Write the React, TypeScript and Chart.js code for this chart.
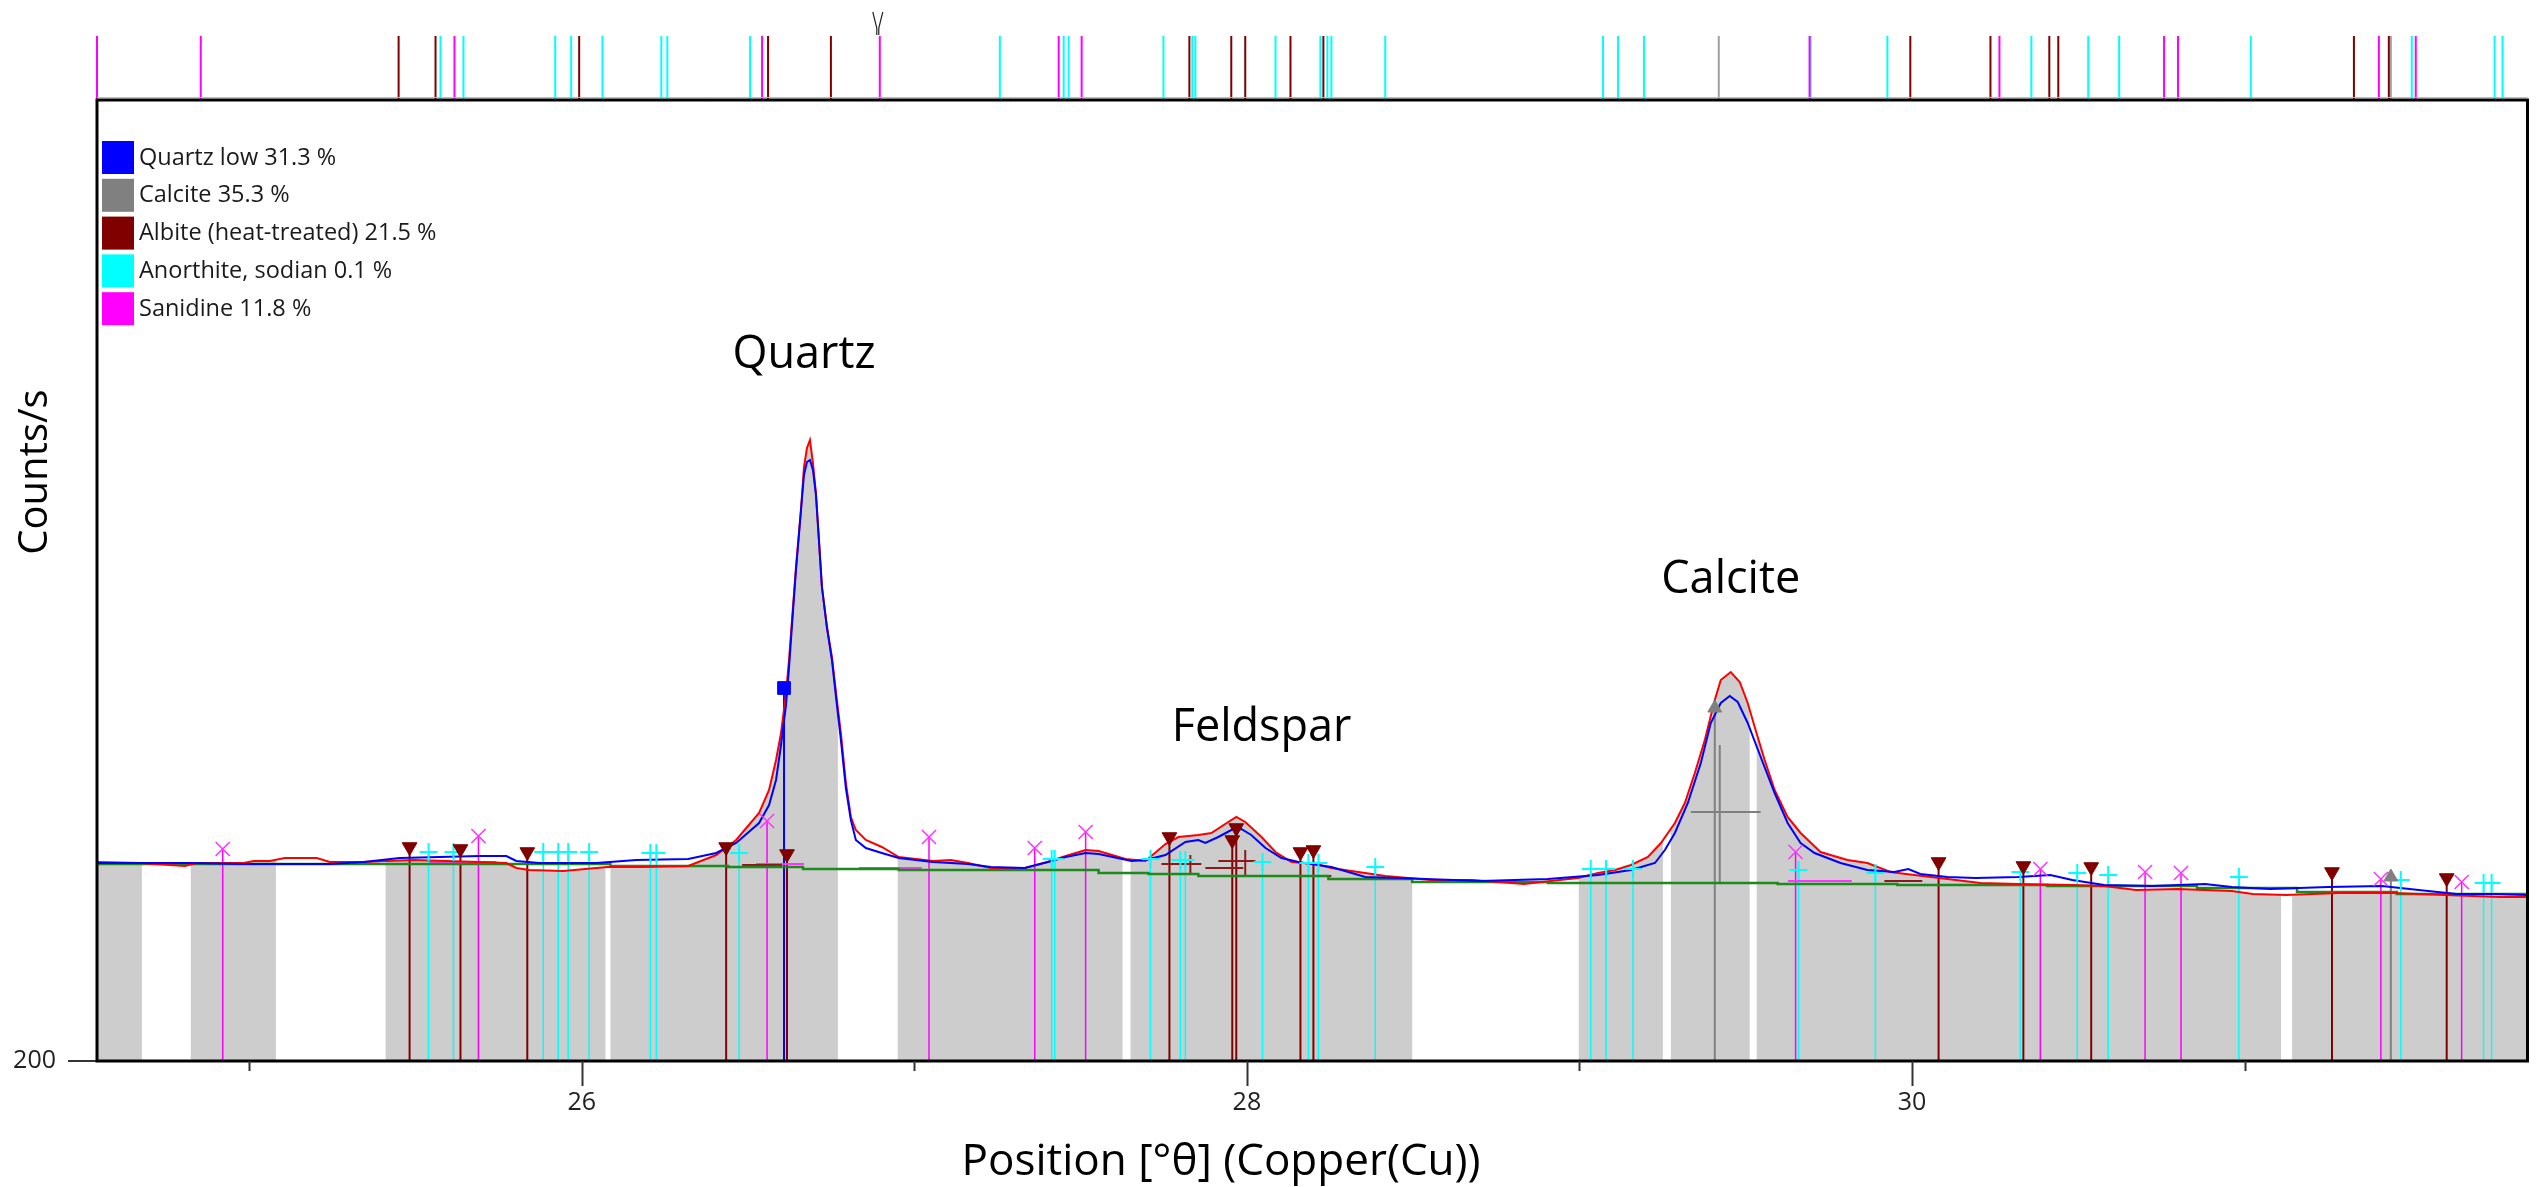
import React, { useEffect, useRef } from 'react';
import { Chart, registerables } from 'chart.js';

// ---------------- data ----------------
const X_MIN = 24.542;
const X_MAX = 31.851;
const Y_MIN = 200;
const Y_MAX = 1161;
const STRIP_BOTTOM = 1161;
const STRIP_TOP = 1225;

const xTickValues = [25, 26, 27, 28, 29, 30, 31];
const xTickLabels = ['', '26', '', '28', '', '30', ''];
const yTickValues = [200];

const observed: [number, number][] = [
  [24.542, 399], [24.671, 398], [24.806, 395], [24.842, 398], [24.983, 398], [25.013, 400], [25.062, 400],
  [25.107, 403], [25.203, 403], [25.242, 399], [25.344, 399], [25.413, 400], [25.494, 401], [25.593, 400],
  [25.692, 399], [25.773, 398], [25.803, 393], [25.842, 391], [25.944, 390], [26.077, 394], [26.182, 394],
  [26.320, 395], [26.404, 406], [26.464, 421], [26.533, 448], [26.563, 471], [26.584, 501], [26.599, 528],
  [26.614, 568], [26.623, 601], [26.632, 641], [26.644, 694], [26.659, 751], [26.668, 794], [26.677, 813],
  [26.686, 821], [26.695, 798], [26.704, 768], [26.713, 721], [26.722, 674], [26.737, 634], [26.752, 604],
  [26.767, 561], [26.779, 528], [26.794, 478], [26.809, 444], [26.824, 431], [26.854, 421], [26.902, 414],
  [26.953, 404], [27.056, 400], [27.110, 401], [27.161, 398], [27.230, 393], [27.332, 393], [27.401, 399],
  [27.455, 405], [27.515, 411], [27.554, 410], [27.635, 402], [27.695, 400], [27.755, 417], [27.794, 424],
  [27.854, 426], [27.893, 428], [27.944, 439], [27.968, 444], [27.995, 439], [28.044, 424], [28.086, 409],
  [28.134, 399], [28.206, 397], [28.254, 393], [28.335, 389], [28.416, 385], [28.554, 381], [28.677, 381],
  [28.833, 377], [28.995, 383], [29.056, 388], [29.107, 391], [29.155, 396], [29.206, 404], [29.245, 418],
  [29.287, 438], [29.317, 458], [29.347, 488], [29.377, 521], [29.407, 561], [29.425, 581], [29.455, 589],
  [29.482, 579], [29.506, 558], [29.527, 534], [29.557, 501], [29.587, 471], [29.626, 444], [29.665, 428],
  [29.725, 409], [29.806, 401], [29.866, 398], [29.935, 389], [30.007, 386], [30.107, 382], [30.206, 378],
  [30.320, 377], [30.482, 376], [30.578, 375], [30.674, 371], [30.800, 372], [30.962, 370], [31.025, 367],
  [31.125, 366], [31.284, 368], [31.446, 368], [31.605, 366], [31.767, 364], [31.851, 364],
];

const calculated: [number, number][] = [
  [24.542, 398], [24.701, 398], [24.824, 398], [24.983, 397], [25.242, 397], [25.344, 399], [25.452, 403],
  [25.572, 404], [25.692, 405], [25.773, 405], [25.803, 400], [25.872, 398], [26.044, 398], [26.164, 401],
  [26.320, 402], [26.404, 408], [26.464, 418], [26.533, 438], [26.563, 456], [26.584, 481], [26.599, 516],
  [26.614, 556], [26.623, 593], [26.632, 636], [26.644, 691], [26.659, 751], [26.668, 786], [26.677, 799],
  [26.686, 801], [26.695, 791], [26.704, 766], [26.713, 721], [26.722, 674], [26.737, 634], [26.752, 601],
  [26.767, 556], [26.779, 521], [26.794, 473], [26.809, 441], [26.824, 421], [26.854, 413], [26.902, 408],
  [26.953, 403], [27.056, 399], [27.161, 397], [27.230, 394], [27.332, 393], [27.401, 399], [27.455, 404],
  [27.515, 408], [27.554, 407], [27.653, 400], [27.695, 401], [27.755, 406], [27.815, 419], [27.854, 421],
  [27.875, 418], [27.914, 424], [27.953, 431], [27.983, 432], [28.013, 426], [28.056, 413], [28.104, 403],
  [28.155, 399], [28.254, 394], [28.356, 384], [28.455, 383], [28.704, 380], [28.905, 382], [29.056, 386],
  [29.155, 391], [29.227, 398], [29.257, 411], [29.287, 428], [29.326, 458], [29.365, 498], [29.395, 538],
  [29.425, 558], [29.452, 565], [29.476, 559], [29.506, 538], [29.545, 504], [29.587, 468], [29.626, 438],
  [29.665, 418], [29.707, 408], [29.785, 398], [29.866, 391], [29.947, 389], [29.989, 392], [30.025, 387],
  [30.107, 384], [30.191, 383], [30.320, 384], [30.416, 386], [30.482, 381], [30.578, 376], [30.722, 375],
  [30.881, 377], [30.962, 374], [31.077, 372], [31.251, 374], [31.413, 375], [31.524, 371], [31.638, 367],
  [31.749, 367], [31.851, 366],
];

const background: [number, number][] = [
  [24.542, 397], [26.053, 397], [26.086, 395], [26.440, 394], [26.665, 392], [26.953, 391], [27.554, 388],
  [27.704, 387], [27.854, 385], [28.245, 382], [28.497, 379], [28.905, 378], [29.596, 377], [29.956, 376],
  [30.407, 375], [30.857, 373], [31.158, 369], [31.458, 367], [31.851, 364],
];

// regions of the scan shaded in grey
const includedRanges: [number, number][] = [
  [24.542, 24.677], [24.824, 25.080], [25.410, 26.071], [26.086, 26.770], [26.950, 27.626],
  [27.650, 28.497], [28.998, 29.251], [29.275, 29.512], [29.533, 31.110], [31.143, 31.851],
];

// phase legend
const phaseNames = ['Quartz low', 'Calcite', 'Albite (heat-treated)', 'Anorthite, sodian', 'Sanidine'];
const phasePercent = [31.3, 35.3, 21.5, 0.1, 11.8];
const phaseColors = ['#0000ff', '#808080', '#800000', '#00ffff', '#ff00ff'];

// peak markers [position, counts]
const quartzPeaks: [number, number][] = [[26.608, 573]];
const calcitePeaks: [number, number][] = [[29.407, 553], [31.440, 384]];
const albitePeaks: [number, number][] = [
  [25.482, 414], [25.635, 412], [25.836, 409], [26.434, 414], [26.617, 407], [27.767, 424], [27.956, 421],
  [27.968, 433], [28.161, 409], [28.200, 411], [30.080, 399], [30.335, 395], [30.539, 394], [31.263, 389],
  [31.608, 383],
];
const anorthitePeaks: [number, number][] = [
  [25.539, 409], [25.614, 409], [25.884, 409], [25.929, 409], [25.959, 409], [26.022, 409], [26.206, 408],
  [26.224, 408], [26.473, 408], [27.413, 402], [27.422, 402], [27.710, 402], [27.800, 401], [27.815, 401],
  [28.047, 399], [28.185, 398], [28.215, 398], [28.386, 394], [29.034, 392], [29.080, 392], [29.161, 392],
  [29.659, 391], [29.890, 388], [30.326, 389], [30.497, 388], [30.590, 386], [30.983, 384], [31.470, 381],
  [31.719, 378], [31.743, 378],
];
const sanidinePeaks: [number, number][] = [
  [24.920, 412], [25.689, 425], [26.557, 440], [27.044, 424], [27.362, 413], [27.515, 429], [29.650, 409],
  [30.386, 392], [30.701, 389], [30.809, 388], [31.410, 382], [31.653, 379],
];

// peak width crosses: [xStart, yStart, xEnd, yEnd]
const calciteWidthBars: [number, number, number, number][] = [
  [29.335, 449, 29.545, 449], [29.422, 516, 29.422, 377],
];
const albiteWidthBars: [number, number, number, number][] = [
  [27.743, 397, 27.863, 397], [27.830, 406, 27.830, 388], [27.875, 393, 27.989, 393],
  [27.914, 400, 28.026, 400], [27.995, 411, 27.995, 384], [28.056, 385, 28.254, 385],
  [26.482, 396, 26.602, 396], [29.917, 380, 30.031, 380],
];
const sanidineWidthBars: [number, number, number, number][] = [
  [26.524, 397, 26.668, 397], [26.833, 393, 27.022, 393], [25.542, 399, 25.743, 399],
  [29.627, 380, 29.819, 380],
];

// reference pattern lines in the top strip
const refSanidine = [24.542, 24.854, 25.617, 26.542, 26.896, 27.434, 27.503, 29.692, 30.263, 30.758, 30.800, 31.404, 31.515];
const refAlbite = [25.449, 25.560, 25.992, 26.560, 26.749, 27.827, 27.953, 27.995, 28.131, 28.230, 29.995, 30.236, 30.413, 30.440, 31.329, 31.434];
const refAnorthite = [25.575, 25.644, 25.920, 25.968, 26.062, 26.239, 26.257, 26.506, 27.257, 27.449, 27.464, 27.749, 27.836, 27.845, 28.086, 28.221, 28.242, 28.254, 28.416, 29.071, 29.116, 29.194, 29.695, 29.926, 30.359, 30.530, 30.623, 31.019, 31.503, 31.752, 31.776];
const refCalcite = [29.419, 31.440];
const cursorPos = [26.890];

// peak labels
const annotationText = ['Quartz', 'Feldspar', 'Calcite'];
const annotationX = [26.668, 28.044, 29.455];
const annotationY = [906, 533, 681];

const xTitle = 'Position [°θ] (Copper(Cu))';
const yTitle = 'Counts/s';

// ---------------- helpers ----------------
const FONT = "'Open Sans', 'Noto Sans', sans-serif";
const toXY = (pts: [number, number][]) => pts.map(([x, y]) => ({ x, y }));
const stems = (pts: [number, number][]) =>
  pts.flatMap(([x, y]) => [{ x, y: Y_MIN }, { x, y }, { x, y: null as any }]);
const bars = (segs: [number, number, number, number][]) =>
  segs.flatMap(([x0, y0, x1, y1]) => [{ x: x0, y: y0 }, { x: x1, y: y1 }, { x: x1, y: null as any }]);
const strip = (xs: number[]) =>
  [...xs].sort((a, b) => a - b).flatMap((x) => [{ x, y: STRIP_BOTTOM }, { x, y: STRIP_TOP }, { x, y: null as any }]);

const includedClip = {
  id: 'includedClip',
  beforeDatasetDraw(chart: any, args: any) {
    const ds = chart.data.datasets[args.index];
    if (!ds || !ds.clipRanges) return;
    const { ctx, chartArea, scales } = chart;
    ctx.save();
    ctx.beginPath();
    for (const [a, b] of ds.clipRanges) {
      const x0 = scales.x.getPixelForValue(a);
      const x1 = scales.x.getPixelForValue(b);
      ctx.rect(x0, chartArea.top, x1 - x0, chartArea.bottom - chartArea.top);
    }
    ctx.clip();
  },
  afterDatasetDraw(chart: any, args: any) {
    const ds = chart.data.datasets[args.index];
    if (!ds || !ds.clipRanges) return;
    chart.ctx.restore();
  },
};
Chart.register(includedClip);
Chart.register(...registerables);

const decor = {
  id: 'decor',
  afterDatasetsDraw(chart: any) {
    const { ctx, chartArea: a, scales } = chart;
    const x = scales.x;
    const y = scales.y;
    ctx.save();
    // frame
    ctx.strokeStyle = '#bdbdbd';
    ctx.lineWidth = 1;
    ctx.beginPath();
    ctx.moveTo(a.left, a.top - 2.5);
    ctx.lineTo(a.right, a.top - 2.5);
    ctx.stroke();
    ctx.strokeStyle = '#000';
    ctx.lineWidth = 3;
    ctx.strokeRect(a.left, a.top, a.right - a.left, a.bottom - a.top);
    // x tick marks (major / minor)
    ctx.strokeStyle = '#333';
    ctx.lineWidth = 2;
    xTickValues.forEach((t, i) => {
      const px = Math.round(x.getPixelForValue(t)) + 0.5;
      const len = xTickLabels[i] ? 25 : 10;
      ctx.beginPath();
      ctx.moveTo(px, a.bottom);
      ctx.lineTo(px, a.bottom + len);
      ctx.stroke();
    });
    // cursor mark in the top strip
    cursorPos.forEach((c) => {
      const px = x.getPixelForValue(c);
      ctx.strokeStyle = '#222';
      ctx.lineWidth = 1.2;
      ctx.beginPath();
      ctx.moveTo(px - 5, 12);
      ctx.lineTo(px - 1, 28);
      ctx.lineTo(px - 1, 35);
      ctx.moveTo(px + 5, 12);
      ctx.lineTo(px + 1, 28);
      ctx.lineTo(px + 1, 35);
      ctx.stroke();
    });
    // legend
    ctx.textAlign = 'left';
    ctx.textBaseline = 'middle';
    ctx.font = `23.5px ${FONT}`;
    phaseNames.forEach((n, i) => {
      const top = a.top + 41 + i * 37.8;
      ctx.fillStyle = phaseColors[i];
      ctx.fillRect(a.left + 5, top, 32, 33);
      ctx.fillStyle = '#1a1a1a';
      ctx.fillText(`${n} ${phasePercent[i].toFixed(1)} %`, a.left + 42, top + 17);
    });
    // peak labels
    ctx.font = `45px ${FONT}`;
    ctx.fillStyle = '#000';
    ctx.textAlign = 'center';
    annotationText.forEach((t, i) => {
      ctx.fillText(t, x.getPixelForValue(annotationX[i]), y.getPixelForValue(annotationY[i]));
    });
    // axis titles
    ctx.font = `44px ${FONT}`;
    ctx.fillText(xTitle, 1221, 1162);
    ctx.font = `40px ${FONT}`;
    ctx.translate(36, 472);
    ctx.rotate(-Math.PI / 2);
    ctx.fillText(yTitle, 0, 0);
    ctx.restore();
  },
};

export default function App() {
  const ref = useRef<HTMLCanvasElement | null>(null);
  useEffect(() => {
    if (!ref.current) return;
    const line = { pointRadius: 0, tension: 0, fill: false };
    const chart = new Chart(ref.current, {
      type: 'line',
      data: {
        datasets: [
          { label: 'Quartz', data: toXY(quartzPeaks), showLine: false, pointStyle: 'rect', pointRadius: 9, backgroundColor: phaseColors[0], borderColor: phaseColors[0], order: 0 } as any,
          { label: 'Calcite', data: toXY(calcitePeaks), showLine: false, pointStyle: 'triangle', pointRadius: 8, backgroundColor: phaseColors[1], borderColor: phaseColors[1], order: 0 },
          { label: 'Albite', data: toXY(albitePeaks), showLine: false, pointStyle: 'triangle', rotation: 180, pointRadius: 8.5, backgroundColor: phaseColors[2], borderColor: phaseColors[2], order: 0 },
          { label: 'Anorthite', data: toXY(anorthitePeaks), showLine: false, pointStyle: 'cross', pointRadius: 9, borderWidth: 2, borderColor: phaseColors[3], backgroundColor: phaseColors[3], order: 0 },
          { label: 'Sanidine', data: toXY(sanidinePeaks), showLine: false, pointStyle: 'crossRot', pointRadius: 10, borderWidth: 1.5, borderColor: '#ff33ff', backgroundColor: '#ff33ff', order: 0 },
          { label: 'Calculated', data: toXY(calculated), ...line, borderColor: '#0000ff', borderWidth: 2, order: 1 },
          { label: 'Observed', data: toXY(observed), ...line, borderColor: '#ff0000', borderWidth: 2, order: 2 },
          { label: 'Background', data: toXY(background), ...line, borderColor: '#1e8a1e', borderWidth: 2.5, stepped: 'before', order: 3 },
          { label: 'Calcite width', data: bars(calciteWidthBars), ...line, borderColor: '#808080', borderWidth: 2, order: 4 },
          { label: 'Albite width', data: bars(albiteWidthBars), ...line, borderColor: '#8b1a1a', borderWidth: 2, order: 4 },
          { label: 'Sanidine width', data: bars(sanidineWidthBars), ...line, borderColor: '#ff33ff', borderWidth: 2, order: 4 },
          { label: 'Quartz stems', data: stems(quartzPeaks), ...line, borderColor: phaseColors[0], borderWidth: 2, order: 4 },
          { label: 'Calcite stems', data: stems(calcitePeaks), ...line, borderColor: phaseColors[1], borderWidth: 2, order: 4 },
          { label: 'Albite stems', data: stems(albitePeaks), ...line, borderColor: phaseColors[2], borderWidth: 2, order: 4 },
          { label: 'Anorthite stems', data: stems(anorthitePeaks), ...line, borderColor: phaseColors[3], borderWidth: 1.5, order: 4 },
          { label: 'Sanidine stems', data: stems(sanidinePeaks), ...line, borderColor: phaseColors[4], borderWidth: 1.5, order: 4 },
          { label: 'ref Sanidine', data: strip(refSanidine), ...line, borderColor: phaseColors[4], borderWidth: 2, clip: false, order: 5 },
          { label: 'ref Albite', data: strip(refAlbite), ...line, borderColor: phaseColors[2], borderWidth: 2, clip: false, order: 5 },
          { label: 'ref Anorthite', data: strip(refAnorthite), ...line, borderColor: phaseColors[3], borderWidth: 2, clip: false, order: 5 },
          { label: 'ref Calcite', data: strip(refCalcite), ...line, borderColor: '#a0a0a0', borderWidth: 2, clip: false, order: 5 },
          { label: 'Included', data: toXY(observed), pointRadius: 0, tension: 0, borderWidth: 0, borderColor: 'rgba(0,0,0,0)', backgroundColor: '#cdcdcd', fill: 'start', clipRanges: includedRanges, order: 10 } as any,
        ],
      },
      options: {
        animation: false,
        responsive: false,
        devicePixelRatio: 1,
        events: [],
        spanGaps: false,
        layout: { padding: { left: 0, right: 8, top: 100, bottom: 0 } },
        plugins: { legend: { display: false }, tooltip: { enabled: false } },
        scales: {
          x: {
            type: 'linear',
            min: X_MIN,
            max: X_MAX,
            afterBuildTicks: (s: any) => { s.ticks = xTickValues.map((v) => ({ value: v })); },
            afterFit: (s: any) => { s.height = 126; },
            grid: { display: false, drawTicks: false },
            border: { display: false },
            ticks: {
              autoSkip: false,
              maxRotation: 0,
              padding: 27,
              color: '#222',
              font: { size: 25, family: FONT },
              callback: (v: any) => xTickLabels[xTickValues.indexOf(Number(v))] ?? '',
            },
          },
          y: {
            type: 'linear',
            min: Y_MIN,
            max: Y_MAX,
            afterBuildTicks: (s: any) => { s.ticks = yTickValues.map((v) => ({ value: v })); },
            afterFit: (s: any) => { s.width = 97; },
            grid: { drawOnChartArea: false, drawTicks: true, tickLength: 29, color: '#333', lineWidth: 2 },
            border: { display: false },
            ticks: { padding: 12, color: '#222', font: { size: 25, family: FONT }, callback: (v: any) => String(v) },
          },
        },
      } as any,
      plugins: [decor],
    });
    return () => chart.destroy();
  }, []);
  return (
    <div style={{ position: 'fixed', left: 0, top: 0, width: 2539, height: 1187, background: '#fff' }}>
      <canvas ref={ref} width={2539} height={1187} style={{ width: 2539, height: 1187, display: 'block' }} />
    </div>
  );
}
